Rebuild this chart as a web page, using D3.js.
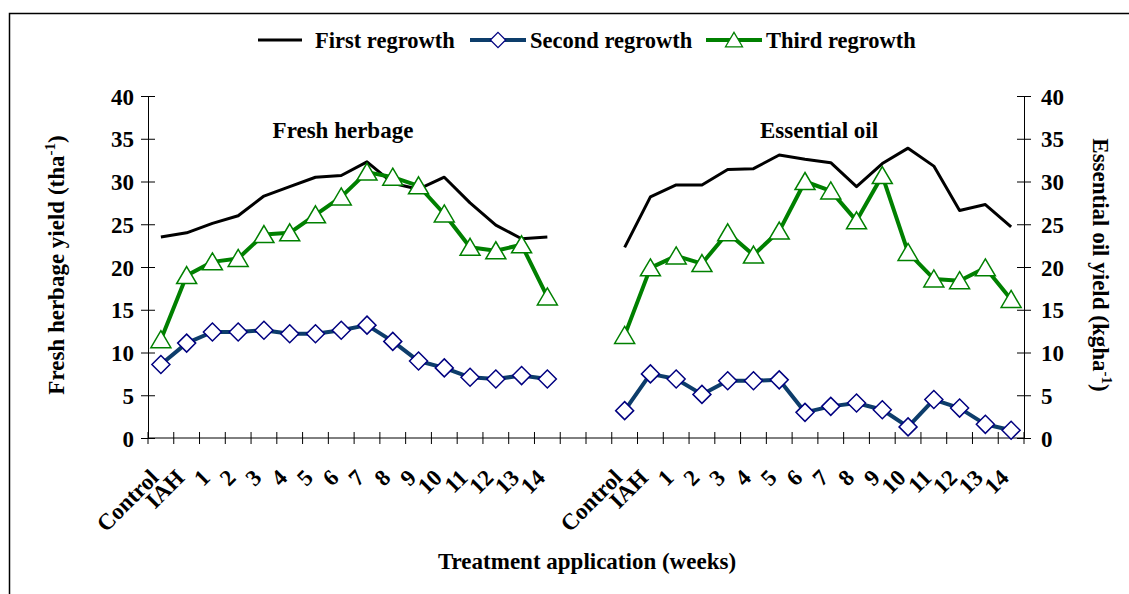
<!DOCTYPE html>
<meta charset="utf-8">
<head>
<title>Fresh herbage and essential oil yield</title>
<script src="https://cdnjs.cloudflare.com/ajax/libs/d3/7.8.5/d3.min.js" charset="utf-8"></script>
<style type="text/css">
body {margin: 0; background: #fff;}
text {font-family: "Liberation Serif", "Times New Roman", serif; font-weight: bold; fill: #000;}
</style>
</head>
<body>
<script>
// Data
var categories = ["Control", "IAH", "1", "2", "3", "4", "5", "6", "7", "8", "9", "10", "11", "12", "13", "14"];

var herbFirst  = [23.5, 24.0, 25.1, 26.0, 28.3, 29.4, 30.5, 30.7, 32.3, 29.8, 29.1, 30.5, 27.5, 24.9, 23.3, 23.5];
var herbSecond = [8.6, 11.1, 12.4, 12.4, 12.6, 12.2, 12.2, 12.6, 13.2, 11.3, 9.0, 8.2, 7.1, 6.9, 7.3, 6.9];
var herbThird  = [11.5, 19.0, 20.6, 21.0, 23.8, 24.0, 26.1, 28.2, 31.1, 30.5, 29.5, 26.2, 22.3, 21.9, 22.6, 16.5];

var oilFirst  = [22.3, 28.2, 29.6, 29.6, 31.4, 31.5, 33.1, 32.6, 32.2, 29.4, 32.1, 33.9, 31.8, 26.6, 27.3, 24.7];
var oilSecond = [3.2, 7.5, 6.9, 5.1, 6.7, 6.7, 6.8, 3.0, 3.7, 4.1, 3.3, 1.3, 4.5, 3.5, 1.6, 0.9];
var oilThird  = [12.0, 19.9, 21.3, 20.4, 24.0, 21.4, 24.2, 30.0, 28.9, 25.4, 30.7, 21.7, 18.6, 18.4, 19.9, 16.2];

var yTicks = [0, 5, 10, 15, 20, 25, 30, 35, 40];
var seriesNames = ["First regrowth", "Second regrowth", "Third regrowth"];

// Layout
var width = 1129, height = 594;
var plotLeft = 148, plotRight = 1024, plotTop = 96, plotBottom = 438;
var gap = 2; // empty slots between the two panels
var nSlots = categories.length * 2 + gap;
var rightStart = categories.length + gap;

var svg = d3.select("body").append("svg")
  .attr("width", width)
  .attr("height", height);

// outer frame
svg.append("rect")
  .attr("x", 9.5).attr("y", 13.5)
  .attr("width", 1200).attr("height", 700)
  .style("fill", "none").style("stroke", "#000").style("stroke-width", 1.5);

var x = d3.scaleBand().domain(d3.range(nSlots)).range([plotLeft, plotRight]).padding(0);
var y = d3.scaleLinear().domain([0, 40]).range([plotBottom, plotTop]);

var cx = function(i) { return x(i) + x.bandwidth() / 2; };

// x axis with ticks at slot boundaries
svg.append("line")
  .attr("x1", plotLeft).attr("x2", plotRight)
  .attr("y1", y(0)).attr("y2", y(0))
  .style("stroke", "#000").style("stroke-width", 1);
svg.selectAll(".xtick")
  .data(d3.range(nSlots + 1))
  .enter().append("line")
  .attr("x1", function(d) { return plotLeft + d * x.step(); })
  .attr("x2", function(d) { return plotLeft + d * x.step(); })
  .attr("y1", y(0) - 6).attr("y2", y(0) + 6)
  .style("stroke", "#000").style("stroke-width", 1);

// rotated category labels, both panels
var labelData = categories.map(function(c, i) { return {t: c, i: i}; })
  .concat(categories.map(function(c, i) { return {t: c, i: rightStart + i}; }));
svg.selectAll(".xlab")
  .data(labelData)
  .enter().append("text")
  .attr("transform", function(d) { return "translate(" + (cx(d.i) - 1) + ",479) rotate(-45)"; })
  .attr("text-anchor", "end")
  .style("font-size", "23px")
  .text(function(d) { return d.t; });

// y axes
var yLeft = svg.append("g")
  .attr("transform", "translate(" + plotLeft + ",0)")
  .call(d3.axisLeft(y).tickValues(yTicks).tickSizeOuter(0).tickSize(7).tickPadding(7));
var yRight = svg.append("g")
  .attr("transform", "translate(" + plotRight + ",0)")
  .call(d3.axisRight(y).tickValues(yTicks).tickSizeOuter(0).tickSize(7).tickPadding(10));
[yLeft, yRight].forEach(function(g, k) {
  g.select(".domain").style("stroke", "#000");
  g.selectAll(".tick line").attr("x1", k === 0 ? 7 : -7).style("stroke", "#000");
  g.selectAll(".tick text")
    .style("font-size", "23px")
    .style("font-family", "'Liberation Serif', serif")
    .style("font-weight", "bold")
    .attr("dy", "0.35em");
});

// series lines
var line = d3.line()
  .x(function(d) { return cx(d.i); })
  .y(function(d) { return y(d.v); });

var toPts = function(arr, offset) {
  return arr.map(function(v, i) { return {i: offset + i, v: v}; });
};

var diamond = "M0,-9L9,0L0,9L-9,0Z";
var triangle = "M0,-9L10,8L-10,8Z";

var series = [
  {data: [herbFirst, oilFirst], color: "#000", w: 3, marker: null},
  {data: [herbSecond, oilSecond], color: "#0d3d6b", w: 4, marker: diamond, mStroke: "#000080"},
  {data: [herbThird, oilThird], color: "#008000", w: 4, marker: triangle, mStroke: "#008000"}
];

series.forEach(function(s) {
  [0, 1].forEach(function(p) {
    var pts = toPts(s.data[p], p === 0 ? 0 : rightStart);
    svg.append("path")
      .datum(pts)
      .attr("d", line)
      .style("fill", "none")
      .style("stroke", s.color)
      .style("stroke-width", s.w)
      .style("stroke-linejoin", "round");
    if (s.marker) {
      svg.selectAll(null)
        .data(pts)
        .enter().append("path")
        .attr("d", s.marker)
        .attr("transform", function(d) { return "translate(" + cx(d.i) + "," + y(d.v) + ")"; })
        .style("fill", "#fff")
        .style("stroke", s.mStroke)
        .style("stroke-width", 1.5);
    }
  });
});

// panel titles
svg.append("text").attr("x", 343).attr("y", 138).attr("text-anchor", "middle")
  .style("font-size", "23px").text("Fresh herbage");
svg.append("text").attr("x", 819).attr("y", 138).attr("text-anchor", "middle")
  .style("font-size", "23px").text("Essential oil");

// axis titles
var lt = svg.append("text")
  .attr("transform", "translate(64,265) rotate(-90)")
  .attr("text-anchor", "middle")
  .style("font-size", "23px");
lt.append("tspan").text("Fresh herbage yield (tha");
lt.append("tspan").attr("dy", -9).style("font-size", "15px").text("-1");
lt.append("tspan").attr("dy", 9).text(")");

var rt = svg.append("text")
  .attr("transform", "translate(1093,265) rotate(90)")
  .attr("text-anchor", "middle")
  .style("font-size", "23px");
rt.append("tspan").text("Essential oil yield (kgha");
rt.append("tspan").attr("dy", -9).style("font-size", "15px").text("-1");
rt.append("tspan").attr("dy", 9).text(")");

svg.append("text").attr("x", 587).attr("y", 569).attr("text-anchor", "middle")
  .style("font-size", "23px").text("Treatment application (weeks)");

// legend
var legend = [
  {x1: 258, x2: 302, tx: 315, marker: null, color: "#000", w: 3},
  {x1: 470, x2: 526, tx: 530, marker: diamond, color: "#0d3d6b", w: 4, mStroke: "#000080"},
  {x1: 706, x2: 762, tx: 766, marker: triangle, color: "#008000", w: 4, mStroke: "#008000"}
];
legend.forEach(function(l, k) {
  svg.append("line")
    .attr("x1", l.x1).attr("x2", l.x2).attr("y1", 40).attr("y2", 40)
    .style("stroke", l.color).style("stroke-width", l.w);
  if (l.marker) {
    svg.append("path")
      .attr("d", l.marker)
      .attr("transform", "translate(" + ((l.x1 + l.x2) / 2) + ",40) scale(0.85)")
      .style("fill", "#fff").style("stroke", l.mStroke).style("stroke-width", 1.5);
  }
  svg.append("text")
    .attr("x", l.tx).attr("y", 48)
    .style("font-size", "22.5px")
    .text(seriesNames[k]);
});
</script>
</body>
